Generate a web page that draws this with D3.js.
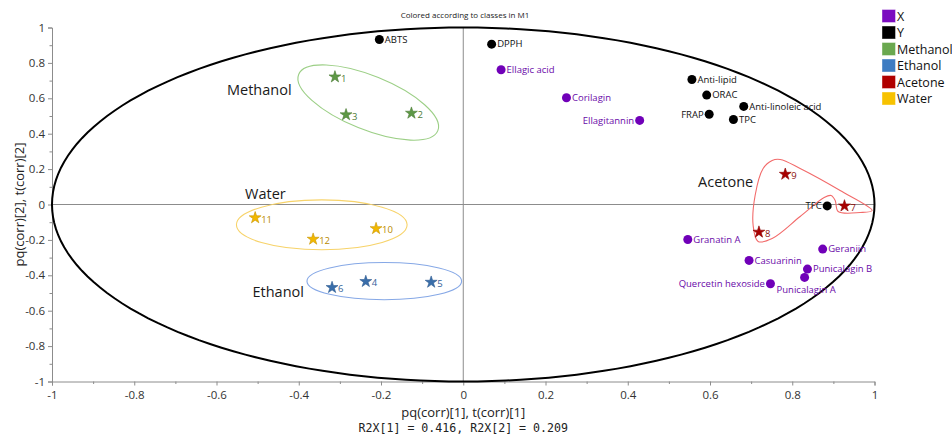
<!DOCTYPE html>
<html><head><meta charset="utf-8">
<script src="https://cdn.jsdelivr.net/npm/d3@7"></script>
<style>
html,body{margin:0;padding:0;background:#fff;}
svg{display:block;font-family:"Open Sans","Noto Sans",sans-serif;}
</style></head>
<body>
<svg id="chart" width="952" height="437"></svg>
<script>
// ---- data ----
const xLabels = ["Ellagic acid","Corilagin","Ellagitannin","Granatin A","Geraniin","Casuarinin","Punicalagin B","Punicalagin A","Quercetin hexoside"];
const xP1 = [0.092,0.251,0.429,0.546,0.874,0.695,0.837,0.830,0.747];
const xP2 = [0.761,0.603,0.475,-0.198,-0.252,-0.316,-0.365,-0.412,-0.448];
const yLabels = ["ABTS","DPPH","Anti-lipid","ORAC","Anti-linoleic acid","FRAP","TPC","TFC"];
const yP1 = [-0.204,0.069,0.556,0.592,0.682,0.598,0.657,0.885];
const yP2 = [0.932,0.906,0.706,0.618,0.554,0.510,0.480,-0.008];
const sampleIds = ["1","2","3","4","5","6","7","8","9","10","11","12"];
const sampleClass = ["Methanol","Methanol","Methanol","Ethanol","Ethanol","Ethanol","Acetone","Acetone","Acetone","Water","Water","Water"];
const sampleT1 = [-0.312,-0.126,-0.285,-0.237,-0.078,-0.319,0.927,0.719,0.783,-0.212,-0.506,-0.365];
const sampleT2 = [0.721,0.516,0.507,-0.435,-0.439,-0.469,-0.008,-0.156,0.171,-0.136,-0.075,-0.196];
const legendNames = ["X","Y","Methanol","Ethanol","Acetone","Water"];
const xTicks = [-1,-0.8,-0.6,-0.4,-0.2,0,0.2,0.4,0.6,0.8,1];
const yTicks = [-1,-0.8,-0.6,-0.4,-0.2,0,0.2,0.4,0.6,0.8,1];
// class ellipses (data units): centre, semi-axes, tilt
const ellClass = ["Methanol","Water","Ethanol"];
const ellCx = [-0.231,-0.344,-0.192];
const ellCy = [0.576,-0.115,-0.433];
const ellA = [0.1825,0.2075,0.188];
const ellB = [0.1525,0.141,0.105];
const ellTilt = [22,0,0];
// acetone hull outline (data units)
const acetoneHullX = [0.7706,0.8192,0.9165,0.9944,0.9652,0.9117,0.9044,0.8946,0.8776,0.8192,0.7511,0.7170,0.7049,0.7097,0.7292,0.7511];
const acetoneHullY = [0.2542,0.2034,0.0791,-0.0339,-0.0452,-0.0395,0.0226,0.0508,0.0395,-0.0678,-0.1921,-0.2090,-0.1186,0.0508,0.2034,0.2486];
// group annotation labels (data units)
const groupNames = ["Methanol","Water","Ethanol","Acetone"];
const groupX = [-0.496,-0.481,-0.450,0.638];
const groupY = [0.650,0.062,-0.495,0.130];

// ---- styles ----
const fillColor = {X:"#7000b8",Y:"#000000",Methanol:"#5e9846",Ethanol:"#3a6eaa",Acetone:"#a80000",Water:"#f2b800"};
const legendColor = {X:"#7b0cc0",Y:"#000000",Methanol:"#6aa84f",Ethanol:"#3d7cc2",Acetone:"#b00000",Water:"#f7c200"};
const starStroke = {Methanol:"#4a7a34",Ethanol:"#2e5a90",Acetone:"#8a0000",Water:"#c89400"};
const starText = {Methanol:"#4e7c38",Ethanol:"#35629a",Acetone:"#8a1010",Water:"#b88a00"};
const ellColor = {Methanol:"#9ccf86",Water:"#f7d36a",Ethanol:"#86a8e6",Acetone:"#f26a6a"};
const leftLabeled = new Set(["Ellagitannin","FRAP","TFC","Quercetin hexoside"]);

const svg = d3.select("#chart");
const x = d3.scaleLinear().domain([-1,1]).range([52,874.5]);
const y = d3.scaleLinear().domain([-1,1]).range([381.5,27.5]);

// title
svg.append("text").attr("x",465).attr("y",18).attr("text-anchor","middle")
  .attr("font-size",8).attr("fill","#222").text("Colored according to classes in M1");

// zero lines
svg.append("line").attr("x1",x(-1)).attr("x2",x(1)).attr("y1",y(0)).attr("y2",y(0)).attr("stroke","#8c8c8c").attr("stroke-width",1);
svg.append("line").attr("x1",x(0)).attr("x2",x(0)).attr("y1",y(1)).attr("y2",y(-1)).attr("stroke","#8c8c8c").attr("stroke-width",1);

// axes
const minor = d3.range(-1,1.0001,0.1).map(v=>Math.round(v*10)/10);
const xAxis = d3.axisBottom(x).tickValues(xTicks).tickSize(4).tickPadding(3).tickFormat(d=>d===0?"0":String(d));
const yAxis = d3.axisLeft(y).tickValues(yTicks).tickSize(4).tickPadding(3).tickFormat(d=>d===0?"0":String(d));
const gx = svg.append("g").attr("transform",`translate(0,${y(-1)})`).call(xAxis);
const gy = svg.append("g").attr("transform",`translate(${x(-1)},0)`).call(yAxis);
[gx,gy].forEach(g=>{
  g.select(".domain").attr("stroke","#8c8c8c");
  g.selectAll(".tick line").attr("stroke","#8c8c8c");
  g.selectAll(".tick text").attr("font-size",11.5).attr("fill","#333").attr("font-family","Open Sans, sans-serif");
});
gx.selectAll(".tick text").attr("dy","0.9em");
svg.append("g").attr("transform",`translate(0,${y(-1)})`)
  .call(d3.axisBottom(x).tickValues(minor.filter(v=>!xTicks.some(t=>Math.abs(t-v)<1e-9))).tickSize(2.5).tickFormat(""))
  .call(g=>{g.select(".domain").remove();g.selectAll("line").attr("stroke","#8c8c8c");});
svg.append("g").attr("transform",`translate(${x(-1)},0)`)
  .call(d3.axisLeft(y).tickValues(minor.filter(v=>!yTicks.some(t=>Math.abs(t-v)<1e-9))).tickSize(2.5).tickFormat(""))
  .call(g=>{g.select(".domain").remove();g.selectAll("line").attr("stroke","#8c8c8c");});

// axis titles
svg.append("text").attr("x",x(0)).attr("y",417).attr("text-anchor","middle")
  .attr("font-size",13).attr("fill","#222").text("pq(corr)[1], t(corr)[1]");
svg.append("text").attr("x",x(0)).attr("y",432).attr("text-anchor","middle")
  .attr("font-size",11.6).attr("font-family","DejaVu Sans Mono, monospace").attr("fill","#222")
  .text("R2X[1] = 0.416, R2X[2] = 0.209");
svg.append("text").attr("transform",`translate(24,${y(0)}) rotate(-90)`).attr("text-anchor","middle")
  .attr("font-size",13).attr("fill","#222").text("pq(corr)[2], t(corr)[2]");

// unit correlation ellipse
const circ = d3.range(0,361,2).map(a=>[Math.cos(a*Math.PI/180),Math.sin(a*Math.PI/180)]);
svg.append("path").attr("d",d3.line().x(d=>x(d[0])).y(d=>y(d[1])).curve(d3.curveLinearClosed)(circ))
  .attr("fill","none").attr("stroke","#000").attr("stroke-width",2);

// class ellipses
ellClass.forEach((c,i)=>{
  const cx = x(ellCx[i]), cy = y(ellCy[i]);
  const rx = x(ellCx[i]+ellA[i]) - cx, ry = cy - y(ellCy[i]+ellB[i]);
  svg.append("ellipse").attr("cx",0).attr("cy",0).attr("rx",rx).attr("ry",ry)
    .attr("transform",`translate(${cx},${cy}) rotate(${ellTilt[i]})`)
    .attr("fill","none").attr("stroke",ellColor[c]).attr("stroke-width",1.1);
});
// acetone hull
const hull = acetoneHullX.map((v,i)=>[v,acetoneHullY[i]]);
svg.append("path").attr("d",d3.line().x(d=>x(d[0])).y(d=>y(d[1])).curve(d3.curveCatmullRomClosed.alpha(0.5))(hull))
  .attr("fill","none").attr("stroke",ellColor.Acetone).attr("stroke-width",1.1);

// group labels
groupNames.forEach((n,i)=>{
  svg.append("text").attr("x",x(groupX[i])).attr("y",y(groupY[i])).attr("dy","0.35em")
    .attr("text-anchor","middle").attr("font-size",14.5).attr("fill","#1a1a1a").text(n);
});

// variable points
function drawVars(labels,p1,p2,cls){
  labels.forEach((lab,i)=>{
    const px = x(p1[i]), py = y(p2[i]);
    svg.append("circle").attr("cx",px).attr("cy",py).attr("r",4.5).attr("fill",fillColor[cls]);
    const t = svg.append("text").attr("font-size",9.5).attr("fill",cls==="X"?"#6a0aa8":"#111").text(lab);
    if(lab==="Punicalagin A"){
      t.attr("x",px-28).attr("y",py+12).attr("dy","0.35em");
    } else if(leftLabeled.has(lab)){
      t.attr("x",px-5.5).attr("y",py).attr("dy","0.35em").attr("text-anchor","end");
    } else {
      t.attr("x",px+5.5).attr("y",py).attr("dy","0.35em");
    }
  });
}
drawVars(xLabels,xP1,xP2,"X");
drawVars(yLabels,yP1,yP2,"Y");

// samples (stars)
const star = d3.symbol().type(d3.symbolStar).size(44);
sampleIds.forEach((id,i)=>{
  const c = sampleClass[i];
  const px = x(sampleT1[i]), py = y(sampleT2[i]);
  svg.append("path").attr("d",star()).attr("transform",`translate(${px},${py})`)
    .attr("fill",fillColor[c]).attr("stroke",starStroke[c]).attr("stroke-width",0.6);
  svg.append("text").attr("x",px+6).attr("y",py+1.5).attr("dy","0.35em")
    .attr("font-size",9.5).attr("fill",starText[c]).text(id);
});

// legend
legendNames.forEach((n,i)=>{
  const ly = 16 + i*16.5;
  svg.append("rect").attr("x",882).attr("y",ly-6.5).attr("width",13.5).attr("height",13)
    .attr("fill",legendColor[n]).attr("stroke","#ffffff").attr("stroke-opacity",0.5).attr("stroke-width",0.8);
  svg.append("text").attr("x",897).attr("y",ly).attr("dy","0.36em").attr("font-size",12.5).attr("fill","#111").text(n);
});
</script>
</body></html>
